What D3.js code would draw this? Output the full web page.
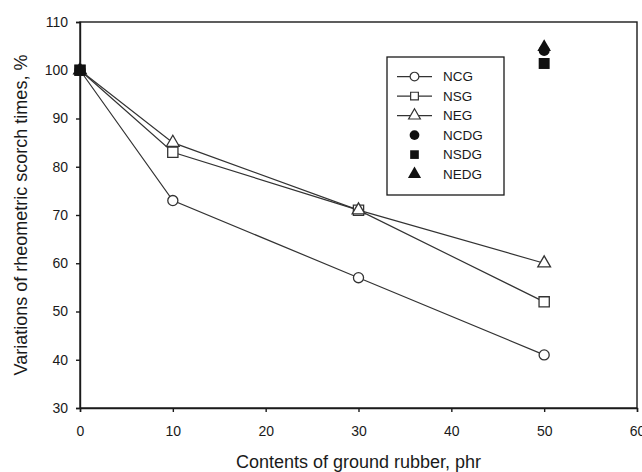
<!DOCTYPE html>
<html>
<head>
<meta charset="utf-8">
<script src="https://cdn.jsdelivr.net/npm/d3@7"></script>
<style>
  body { margin: 0; background: #fff; }
  text { font-family: "Liberation Sans", Arial, sans-serif; fill: #1a1a1a; }
</style>
</head>
<body>
<div id="chart"></div>
<script>
/*
 * Data.
 */
var contents = [0, 10, 30, 50]
  , ncg = [100, 73, 57, 41]
  , nsg = [100, 83, 71, 52]
  , neg = [100, 85, 71, 60]
  , dgContents = [0, 50]
  , ncdg = [100, 104.1]
  , nsdg = [100, 101.4]
  , nedg = [100, 104.8]
  , xTicks = [0, 10, 20, 30, 40, 50, 60]
  , yTicks = [30, 40, 50, 60, 70, 80, 90, 100, 110];

var width = 642
  , height = 472
  , margin = {top: 22, right: 5, bottom: 64, left: 80};

var svg = d3.select('#chart').append('svg')
  .attr('width', width)
  .attr('height', height);

var x = d3.scaleLinear().domain([0, 60]).range([margin.left, width - margin.right]);
var y = d3.scaleLinear().domain([30, 110]).range([height - margin.bottom, margin.top]);

var ink = '#1a1a1a';

/*
 * Frame and axes
 */
svg.append('rect')
  .attr('x', x(0)).attr('y', y(110))
  .attr('width', x(60) - x(0)).attr('height', y(30) - y(110))
  .attr('fill', 'none').attr('stroke', ink).attr('stroke-width', 1.4);

var xAxis = svg.append('g')
  .attr('transform', 'translate(0,' + y(30) + ')')
  .call(d3.axisBottom(x).tickValues(xTicks).tickSize(4).tickPadding(14).tickFormat(d3.format('d')));

var yAxis = svg.append('g')
  .attr('transform', 'translate(' + x(0) + ',0)')
  .call(d3.axisLeft(y).tickValues(yTicks).tickSize(4).tickPadding(8).tickFormat(d3.format('d')));

[xAxis, yAxis].forEach(function(a) {
  a.select('.domain').attr('stroke', ink).attr('stroke-width', 1.4);
  a.selectAll('.tick line').attr('stroke', ink).attr('stroke-width', 1.4);
  a.selectAll('.tick text').style('font-size', '14px').attr('fill', ink);
});

svg.append('text')
  .attr('x', (x(0) + x(60)) / 2)
  .attr('y', 468)
  .attr('text-anchor', 'middle')
  .style('font-size', '18px')
  .text('Contents of ground rubber, phr');

svg.append('text')
  .attr('transform', 'translate(' + 27 + ',' + (y(30) + y(110)) / 2 + ') rotate(-90)')
  .attr('text-anchor', 'middle')
  .style('font-size', '18px')
  .text('Variations of rheometric scorch times, %');

/*
 * Series lines
 */
var line = d3.line()
  .x(function(d) { return x(d[0]); })
  .y(function(d) { return y(d[1]); });

var lineSeries = [
  {name: 'NCG', values: ncg, shape: d3.symbolCircle, size: 80},
  {name: 'NSG', values: nsg, shape: d3.symbolSquare, size: 105},
  {name: 'NEG', values: neg, shape: d3.symbolTriangle, size: 70}
];

var dotSeries = [
  {name: 'NCDG', values: ncdg, shape: d3.symbolCircle, size: 95},
  {name: 'NSDG', values: nsdg, shape: d3.symbolSquare, size: 120},
  {name: 'NEDG', values: nedg, shape: d3.symbolTriangle, size: 80}
];

lineSeries.forEach(function(s) {
  var pts = contents.map(function(c, i) { return [c, s.values[i]]; });
  svg.append('path')
    .attr('d', line(pts))
    .attr('fill', 'none')
    .attr('stroke', '#333')
    .attr('stroke-width', 1.2);
});

lineSeries.forEach(function(s) {
  svg.selectAll(null)
    .data(contents.map(function(c, i) { return [c, s.values[i]]; }))
    .enter().append('path')
    .attr('d', d3.symbol().type(s.shape).size(s.size))
    .attr('transform', function(d) { return 'translate(' + x(d[0]) + ',' + y(d[1]) + ')'; })
    .attr('fill', '#fff')
    .attr('stroke', '#333')
    .attr('stroke-width', 1.3);
});

// filled markers: triangle first, then circle, square on top
[dotSeries[2], dotSeries[0], dotSeries[1]].forEach(function(s) {
  svg.selectAll(null)
    .data(dgContents.map(function(c, i) { return [c, s.values[i]]; }))
    .enter().append('path')
    .attr('d', d3.symbol().type(s.shape).size(s.size))
    .attr('transform', function(d) { return 'translate(' + x(d[0]) + ',' + y(d[1]) + ')'; })
    .attr('fill', '#111');
});

/*
 * Legend
 */
var lg = svg.append('g').attr('transform', 'translate(387,57)');

lg.append('rect')
  .attr('width', 117).attr('height', 138)
  .attr('fill', '#fff').attr('stroke', ink).attr('stroke-width', 1.3);

var items = lineSeries.concat(dotSeries);

var row = lg.selectAll('g.item')
  .data(items)
  .enter().append('g')
  .attr('class', 'item')
  .attr('transform', function(d, i) { return 'translate(0,' + (19.6 + i * 19.5) + ')'; });

row.filter(function(d, i) { return i < 3; })
  .append('line')
  .attr('x1', 10).attr('x2', 45)
  .attr('stroke', '#333').attr('stroke-width', 1.2);

row.append('path')
  .attr('d', function(d, i) { return d3.symbol().type(d.shape).size(i < 3 ? 60 : 75)(); })
  .attr('transform', 'translate(27.5,0)')
  .attr('fill', function(d, i) { return i < 3 ? '#fff' : '#111'; })
  .attr('stroke', function(d, i) { return i < 3 ? '#333' : 'none'; })
  .attr('stroke-width', 1.2);

row.append('text')
  .attr('x', 56)
  .attr('dy', '0.36em')
  .style('font-size', '13.5px')
  .text(function(d) { return d.name; });
</script>
</body>
</html>
